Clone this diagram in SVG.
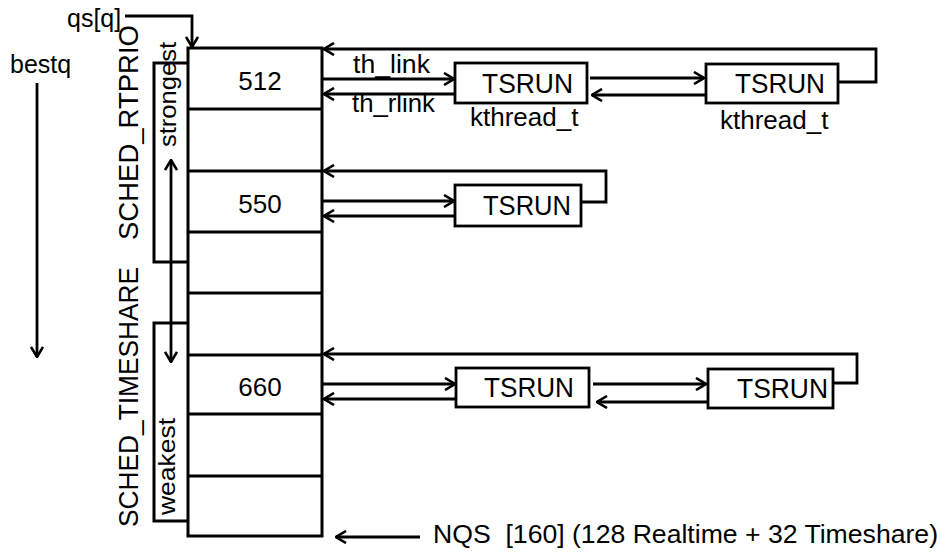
<svg xmlns="http://www.w3.org/2000/svg" width="940" height="554" viewBox="0 0 940 554">
<defs>
<marker id="arr" viewBox="0 0 12 14" markerWidth="12" markerHeight="14" refX="11" refY="7" orient="auto-start-reverse" markerUnits="userSpaceOnUse">
<path d="M1,1 L11,7 L1,13" fill="none" stroke="#000" stroke-width="2.6"/>
</marker>
</defs>
<style>
text{font-family:"Liberation Sans",Arial,sans-serif;fill:#000;white-space:pre}
.line{fill:none;stroke:#000;stroke-width:3}
.conn{fill:none;stroke:#000;stroke-width:2.8;marker-end:url(#arr)}
.box{fill:#fff;stroke:#000;stroke-width:2.8}
.big{font-size:26px}
.ts{font-size:28px}
.mid{font-size:25px}
.sm{font-size:24px}
</style>
<rect width="940" height="554" fill="#fff"/>

<g id="queue-array">
<rect class="line" x="188" y="48" width="134" height="488"/>
<path class="line" d="M188,109H322M188,171H322M188,232H322M188,293H322M188,355H322M188,414H322M188,476H322"/>
<text class="big" x="260" y="90" text-anchor="middle">512</text>
<text class="big" x="260" y="213" text-anchor="middle">550</text>
<text class="big" x="260" y="396" text-anchor="middle">660</text>
</g>

<g id="bracket-rtprio">
<path class="line" d="M188,63H154V262H188"/>
<text class="ts" transform="translate(138,240) rotate(-90)" textLength="215" lengthAdjust="spacingAndGlyphs">SCHED_RTPRIO</text>
<text class="sm" transform="translate(176,147) rotate(-90)" textLength="105" lengthAdjust="spacingAndGlyphs">strongest</text>
</g>

<g id="bracket-timeshare">
<path class="line" d="M188,323H154V521H188"/>
<text class="ts" transform="translate(138,527) rotate(-90)" textLength="260" lengthAdjust="spacingAndGlyphs">SCHED_TIMESHARE</text>
<text class="sm" transform="translate(175,515) rotate(-90)" textLength="97" lengthAdjust="spacingAndGlyphs">weakest</text>
</g>

<g id="label-qs">
<text class="mid" x="67" y="27">qs[q]</text>
</g>
<g id="label-bestq">
<text class="mid" x="10" y="73">bestq</text>
</g>

<g id="r512-t1">
<rect class="box" x="455" y="63" width="132" height="40"/>
<text class="ts" x="482" y="93" textLength="91" lengthAdjust="spacingAndGlyphs">TSRUN</text>
<text class="big" x="470" y="126">kthread_t</text>
</g>
<g id="r512-t2">
<rect class="box" x="706" y="64" width="132" height="39"/>
<text class="ts" x="735" y="93" textLength="90" lengthAdjust="spacingAndGlyphs">TSRUN</text>
<text class="big" x="720" y="129">kthread_t</text>
</g>
<g id="r550-t1">
<rect class="box" x="455" y="185" width="126" height="41"/>
<text class="ts" x="483" y="215" textLength="88" lengthAdjust="spacingAndGlyphs">TSRUN</text>
</g>
<g id="r660-t1">
<rect class="box" x="456" y="368" width="133" height="39"/>
<text class="ts" x="484" y="397" textLength="90" lengthAdjust="spacingAndGlyphs">TSRUN</text>
</g>
<g id="r660-t2">
<rect class="box" x="708" y="369" width="125" height="39"/>
<text class="ts" x="737" y="398" textLength="91" lengthAdjust="spacingAndGlyphs">TSRUN</text>
</g>

<g id="connectors">
<path class="conn" d="M125,16H192V47"/>
<path class="conn" d="M37,83V357"/>
<path class="conn" style="marker-start:url(#arr)" d="M171,160V362"/>

<path class="conn" d="M838,82H876V49H324"/>
<path class="conn" d="M322,79H454"/>
<path class="conn" d="M455,94H324"/>
<path class="conn" d="M590,78H704"/>
<path class="conn" d="M706,95H592"/>

<path class="conn" d="M581,202H606V171H324"/>
<path class="conn" d="M322,201H454"/>
<path class="conn" d="M455,216H324"/>

<path class="conn" d="M833,383H857V354H324"/>
<path class="conn" d="M322,384H455"/>
<path class="conn" d="M456,399H324"/>
<path class="conn" d="M593,384H706"/>
<path class="conn" d="M708,402H597"/>

<path class="conn" d="M420,537H336"/>
<text class="mid" x="353" y="73" textLength="77" lengthAdjust="spacingAndGlyphs">th_link</text>
<text class="mid" x="352" y="112" textLength="83" lengthAdjust="spacingAndGlyphs">th_rlink</text>
</g>

<g id="label-nqs">
<text class="mid" x="433" y="543" textLength="505" lengthAdjust="spacingAndGlyphs">NQS  [160] (128 Realtime + 32 Timeshare)</text>
</g>
</svg>
